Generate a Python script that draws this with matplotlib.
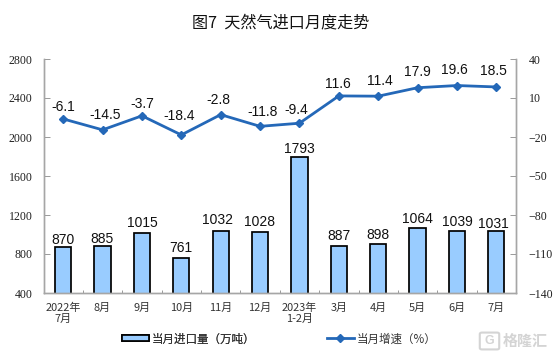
import matplotlib
matplotlib.use("Agg")
import matplotlib.pyplot as plt
from matplotlib.patches import FancyBboxPatch

categories = ["2022年\n7月", "8月", "9月", "10月", "11月", "12月", "2023年\n1-2月", "3月", "4月", "5月", "6月", "7月"]
imports = [870, 885, 1015, 761, 1032, 1028, 1793, 887, 898, 1064, 1039, 1031]
growth = [-6.1, -14.5, -3.7, -18.4, -2.8, -11.8, -9.4, 11.6, 11.4, 17.9, 19.6, 18.5]
left_ticks = [400, 800, 1200, 1600, 2000, 2400, 2800]
right_ticks = [-140, -110, -80, -50, -20, 10, 40]

# label nudges, in points
growth_dx = [0, 2, 0, -1.5, -2, 2, -2, -1, 1, 0, -2, -2]
growth_dy = [3.5, 5.3, 3.8, 8.5, 5.8, 5, 4.3, 3.3, 5.8, 6.5, 5.8, 6.5]
import_dx = [0, -0.5, 0, 0, -2, -0.5, 0, 0, 0, 0, 0, -2]
import_dy = [0.1, 0.1, 2.2, 2.2, 3, 2.2, 0.8, 1.5, 1.5, 1.5, 1.5, 0.1]

CJK = ["Noto Sans CJK SC", "DejaVu Sans"]
W, H = 554, 358
fig = plt.figure(figsize=(W / 100, H / 100), dpi=100, facecolor="white")
ax = fig.add_axes([43.5 / W, 1 - 293 / H, (516 - 43.5) / W, (293 - 59) / H])
ax2 = ax.twinx()
x = list(range(len(categories)))

bars = ax.bar(x, imports, width=0.41, color="#99ccff", edgecolor="black", linewidth=1.25, zorder=2)
ax.set_xlim(-0.5, len(x) - 0.5)
ax.set_ylim(400, 2800)
ax.set_yticks(left_ticks)
ax.set_xticks([i - 0.5 for i in x] + [len(x) - 0.5])
ax.set_xticklabels([])
ax.set_xticks(x, minor=True)
ax.set_xticklabels(categories, minor=True, family=CJK, fontsize=7.9, color="#333333", linespacing=1.15)
ax.tick_params(axis="x", which="major", length=2, width=0.7, color="#999999", direction="in")
ax.tick_params(axis="x", which="minor", length=0, pad=7)
ax.tick_params(axis="y", length=4, width=0.7, color="#999999", direction="in", pad=8)
for t in ax.get_yticklabels():
    t.set(family="Liberation Serif", fontsize=8.6, color="#222222")

line, = ax2.plot(x, growth, color="#2468b8", linewidth=2.0, marker="D", markersize=4.2,
                 markerfacecolor="#2468b8", markeredgecolor="#2468b8", zorder=3)
ax2.set_ylim(-140, 40)
ax2.set_yticks(right_ticks)
ax2.tick_params(axis="y", length=4, width=0.7, color="#999999", direction="in", pad=9)
for t in ax2.get_yticklabels():
    t.set(family="Liberation Serif", fontsize=8.6, color="#222222")

for a in (ax, ax2):
    a.patch.set_visible(False)
    a.spines["top"].set_visible(False)
    for s in ("left", "right", "bottom"):
        a.spines[s].set_color("#a6a6a6")
        a.spines[s].set_linewidth(1.0)

for i, v in enumerate(imports):
    ax.annotate(str(v), (i, v), xytext=(import_dx[i], import_dy[i]), textcoords="offset points",
                ha="center", va="bottom", family="Liberation Sans", fontsize=10, color="#111111")
for i, v in enumerate(growth):
    ax2.annotate(f"{v:g}", (i, v), xytext=(growth_dx[i], growth_dy[i]), textcoords="offset points",
                 ha="center", va="bottom", family="Liberation Sans", fontsize=10, color="#111111")

fig.text(281 / W, 1 - 23 / H, "图7  天然气进口月度走势", ha="center", va="center",
         family=CJK, fontsize=11.6, color="#111111")

leg1 = fig.legend([bars], ["当月进口量（万吨）"], loc="center left",
                  bbox_to_anchor=(122 / W, 1 - 339 / H), frameon=False,
                  prop={"family": CJK, "size": 8.3}, handlelength=2.3, handleheight=0.45,
                  handletextpad=0.25, borderpad=0, borderaxespad=0, labelcolor="#333333")
leg2 = fig.legend([line], ["当月增速（%）"], loc="center left",
                  bbox_to_anchor=(327 / W, 1 - 339 / H), frameon=False,
                  prop={"family": CJK, "size": 8.3}, handlelength=2.3,
                  handletextpad=0.25, borderpad=0, borderaxespad=0, labelcolor="#333333")
fig.add_artist(leg1)

fig.text(525 / W, 1 - 341 / H, "格隆汇", ha="center", va="center", family=CJK,
         fontsize=10.8, color="#d4d4d4", fontweight="bold")
fig.add_artist(FancyBboxPatch((482 / W, 1 - 348 / H), 15 / W, 14 / H, transform=fig.transFigure,
                              boxstyle="round,pad=0.004", facecolor="none", edgecolor="#d4d4d4", linewidth=1.5))
fig.text(489.5 / W, 1 - 341 / H, "G", ha="center", va="center", family="Liberation Sans",
         fontsize=9, color="#d4d4d4", fontweight="bold")

fig.savefig("out.png", dpi=100)
